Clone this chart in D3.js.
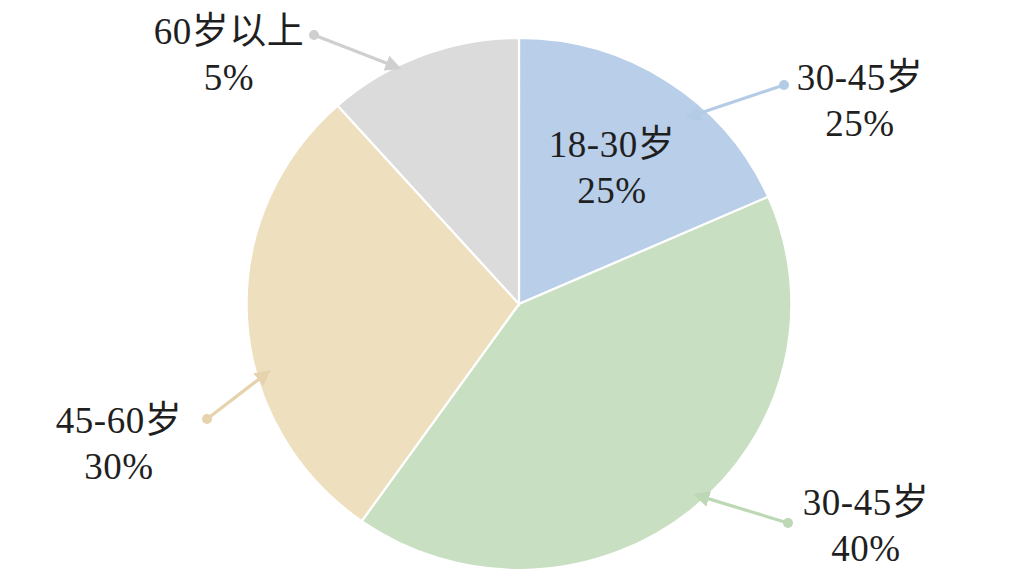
<!DOCTYPE html>
<html><head><meta charset="utf-8">
<script src="https://cdn.jsdelivr.net/npm/d3@7"></script>
<style>
html,body{margin:0;padding:0;background:#fff;}
svg{display:block;}
text{font-family:"Liberation Serif","Noto Sans CJK SC",serif;fill:#1f1f1f;}
</style></head><body>
<svg id="chart" width="1024" height="576"></svg>
<script>
// Data
const categories = ["18-30岁", "30-45岁", "45-60岁", "60岁以上"];
const sliceValues = [18.4, 41.4, 28.6, 11.6];      // slice sizes as drawn
const labelNames = ["18-30岁", "30-45岁", "45-60岁", "60岁以上"];
const labelPercents = ["25%", "40%", "30%", "5%"];
const extraLabelName = "30-45岁";
const extraLabelPercent = "25%";
const colors = ["#b8cee9", "#c8dfc2", "#eedfbf", "#dbdbdb"];

// Layout
const W = 1024, H = 576;
const cx = 519, cy = 304, R = 266, xStretch = 1.024;
const fontSize = 37, lineGap = 46;

const svg = d3.select("#chart");
const pie = d3.pie().sort(null).value(d => d)(sliceValues);
const arc = d3.arc().innerRadius(0).outerRadius(R);

const g = svg.append("g").attr("transform", `translate(${cx},${cy}) scale(${xStretch},1)`);
g.selectAll("path").data(pie).join("path")
  .attr("d", arc)
  .attr("fill", (d, i) => colors[i])
  .attr("stroke", "#fff")
  .attr("stroke-width", 2.2)
  .attr("vector-effect", "non-scaling-stroke");

// polar helper (angle in degrees clockwise from top)
function polar(angleDeg, r) {
  const a = angleDeg * Math.PI / 180;
  return [cx + xStretch * r * Math.sin(a), cy - r * Math.cos(a)];
}

// markers
const defs = svg.append("defs");
function marker(id, color) {
  defs.append("marker").attr("id", id)
    .attr("viewBox", "0 0 10 10").attr("refX", 8).attr("refY", 5)
    .attr("markerWidth", 5).attr("markerHeight", 5)
    .attr("markerUnits", "strokeWidth")
    .attr("orient", "auto")
    .append("path").attr("d", "M0,0 L10,5 L0,10 Z").attr("fill", color);
}

// callout specs: slice index, label text, label anchor, dot, arrow tip (polar)
const callouts = [
  {slice: 0, name: extraLabelName, pct: extraLabelPercent, tx: 860, ty: 90, dot: [784, 85], tip: [41.4, 249], color: "#b4cbe6"},
  {slice: 3, name: labelNames[3], pct: labelPercents[3], tx: 229, ty: 44, dot: [314, 35], tip: [333.5, 264], color: "#cfcfcf"},
  {slice: 2, name: labelNames[2], pct: labelPercents[2], tx: 119, ty: 433, dot: [207, 419], tip: [254.5, 254], color: "#e6d3ae"},
  {slice: 1, name: labelNames[1], pct: labelPercents[1], tx: 866, ty: 515, dot: [788, 523], tip: [137.8, 258], color: "#bcd8b4"}
];

callouts.forEach((c, i) => {
  marker("arr" + i, c.color);
  const tip = polar(c.tip[0], c.tip[1]);
  svg.append("line")
    .attr("x1", c.dot[0]).attr("y1", c.dot[1])
    .attr("x2", tip[0]).attr("y2", tip[1])
    .attr("stroke", c.color).attr("stroke-width", 3.2)
    .attr("marker-end", `url(#arr${i})`);
  svg.append("circle").attr("cx", c.dot[0]).attr("cy", c.dot[1]).attr("r", 5).attr("fill", c.color);
});

function twoLine(x, y, a, b) {
  const t = svg.append("text").attr("text-anchor", "middle").attr("font-size", fontSize)
    .attr("letter-spacing", 0.5);
  t.append("tspan").attr("x", x).attr("y", y).text(a);
  t.append("tspan").attr("x", x).attr("y", y + lineGap).text(b);
}

// inner label for first slice
twoLine(612, 157, labelNames[0], labelPercents[0]);
callouts.forEach(c => twoLine(c.tx, c.ty, c.name, c.pct));
</script>
</body></html>
